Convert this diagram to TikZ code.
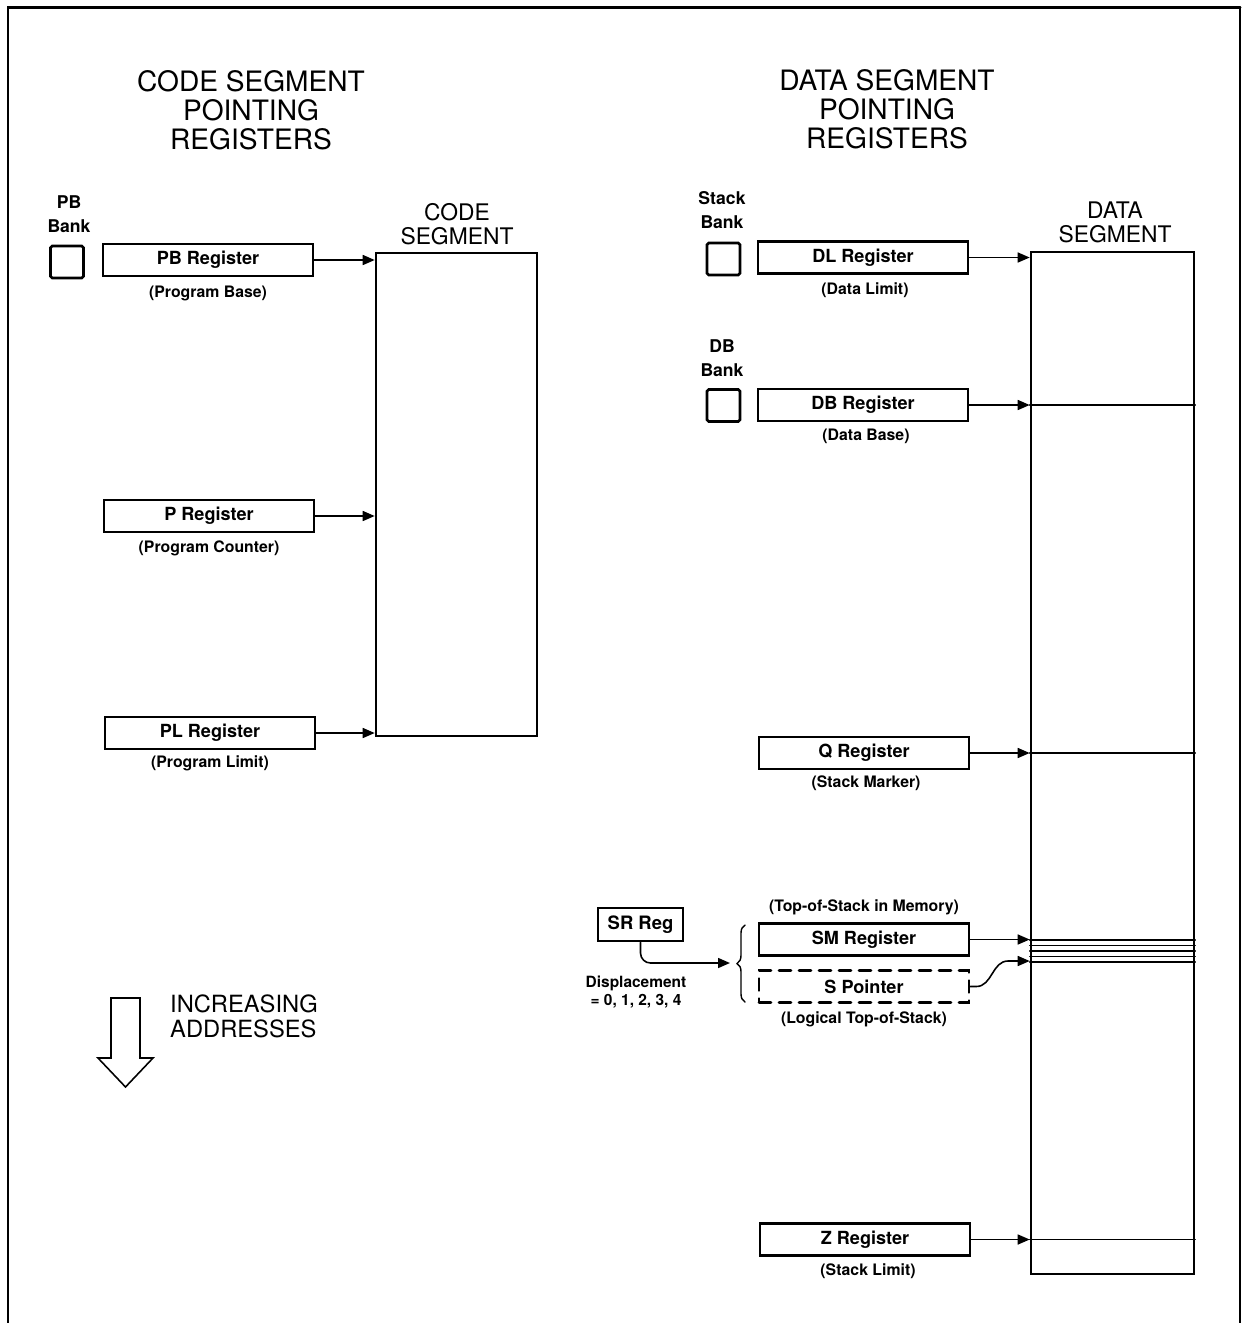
\documentclass[tikz,border=0pt]{standalone}
\usepackage{fontspec}
\setmainfont{TeX Gyre Heros}
\usetikzlibrary{arrows.meta,decorations.pathreplacing}

\begin{document}
\begin{tikzpicture}[x=0.02cm,y=-0.02cm,>={Triangle[length=2.4mm,width=2mm]},line cap=round,
  reg/.style={draw,line width=1.5pt,minimum width=4.2cm,minimum height=0.64cm,inner sep=0pt,font=\fontsize{10.3}{12}\selectfont\bfseries},
  sub/.style={font=\fontsize{9}{11}\selectfont\bfseries},
  bank/.style={draw,line width=1.5pt,rounded corners=1pt,minimum width=0.66cm,minimum height=0.64cm,inner sep=0pt},
  banklbl/.style={align=center,font=\fontsize{10}{13.6}\selectfont\bfseries},
  head/.style={align=center,font=\fontsize{16}{16.4}\selectfont},
  seglbl/.style={align=center,font=\fontsize{13}{13.6}\selectfont},
  seg/.style={draw,line width=1.5pt,inner sep=0pt},
  ptr/.style={->,line width=0.9pt},
  cut/.style={line width=0.7pt}]
\useasboundingbox (0,0) rectangle (1243,1323);
% frame
\draw[line width=1.7pt] (8,1323) -- (8,7) -- (1240,7);
\draw[line width=1pt] (1240,7) -- (1240,1323);

% headings
\node[head] (codehead) at (251,110) {CODE SEGMENT\\POINTING\\REGISTERS};
\node[head] (datahead) at (887,109) {DATA SEGMENT\\POINTING\\REGISTERS};

% code segment side
\node[banklbl] (pbbanklbl) at (69,214) {PB\\Bank};
\node[bank] (pbbank) at (67,262) {};
\node[reg] (pb) at (208,260) {PB Register};
\node[sub] (pbsub) at (208,293) {(Program Base)};
\node[reg] (p) at (209,516) {P Register};
\node[sub] (psub) at (209,548) {(Program Counter)};
\node[reg] (pl) at (210,733) {PL Register};
\node[sub] (plsub) at (210,763) {(Program Limit)};
\node[seglbl] (codelbl) at (457,224) {CODE\\SEGMENT};
\node[seg,minimum width=3.22cm,minimum height=9.66cm] (codeseg) at (456.5,494.5) {};
\draw[ptr] (pb.east) -- (pb.east -| codeseg.west);
\draw[ptr] (p.east) -- (p.east -| codeseg.west);
\draw[ptr] (pl.east) -- (pl.east -| codeseg.west);

% increasing addresses
\draw[line width=0.9pt] (111,998) -- (140,998) -- (140,1058) -- (153,1058) -- (125.5,1087) -- (98,1058) -- (111,1058) -- cycle;
\node[anchor=west,align=left,font=\fontsize{13.5}{14.2}\selectfont] (incr) at (164,1016) {INCREASING\\ADDRESSES};

% data segment side
\node[banklbl] (sbanklbl) at (722,210) {Stack\\Bank};
\node[bank] (sbank) at (723.5,259) {};
\node[reg] (dl) at (863,257.5) {DL Register};
\node[sub] (dlsub) at (865,290) {(Data Limit)};
\node[banklbl] (dbbanklbl) at (722,358) {DB\\Bank};
\node[bank] (dbbank) at (723.5,405.5) {};
\node[reg] (db) at (863,405) {DB Register};
\node[sub] (dbsub) at (866,436) {(Data Base)};
\node[reg] (q) at (864,753) {Q Register};
\node[sub] (qsub) at (866,783) {(Stack Marker)};
\node[sub] (smsub) at (864,907) {(Top-of-Stack in Memory)};
\node[reg] (sm) at (864,939.5) {SM Register};
\node[reg,dash pattern=on 0.24cm off 0.16cm] (sp) at (864,986.5) {S Pointer};
\node[sub] (spsub) at (864,1019) {(Logical Top-of-Stack)};
\node[reg] (z) at (865,1239.5) {Z Register};
\node[sub] (zsub) at (868,1271) {(Stack Limit)};
\node[seglbl] (datalbl) at (1115,222) {DATA\\SEGMENT};
\node[seg,minimum width=3.26cm,minimum height=20.44cm] (dataseg) at (1112.5,763) {};

\node[draw,line width=1.5pt,minimum width=1.7cm,minimum height=0.66cm,inner sep=0pt,font=\fontsize{10.5}{12}\selectfont\bfseries] (sr) at (640.5,924.5) {SR Reg};
\node[align=center,font=\fontsize{8.8}{9.8}\selectfont\bfseries] (disp) at (636,992) {Displacement\\= 0, 1, 2, 3, 4};
\draw[line width=0.8pt,decorate,decoration={brace,amplitude=0.16cm}] (745,1002) -- (745,925);
\coordinate (brtip) at (730,963);
\draw[ptr,rounded corners=0.2cm] (sr.south) |- (brtip);

% pointers into the data segment
\draw[ptr] (dl.east) -- (dl.east -| dataseg.west);
\foreach \r in {db,q,z} {
  \draw[ptr] (\r.east) -- (\r.east -| dataseg.west);
  \draw[cut] (\r.east -| dataseg.west) -- (\r.east -| dataseg.east);
}
\foreach \yy in {940,945.5,951,956.5,962}
  \draw[cut] (dataseg.west |- 0,\yy) -- (dataseg.east |- 0,\yy);
\draw[ptr] (sm.east) -- (sm.east -| dataseg.west);
\coordinate (stop) at (dataseg.west |- 0,961);
\coordinate (sbend) at (1008,961);
\draw[ptr] (sp.east) -- ++(6,0) to[out=0,in=180] (sbend) -- (stop);
\end{tikzpicture}
\end{document}
